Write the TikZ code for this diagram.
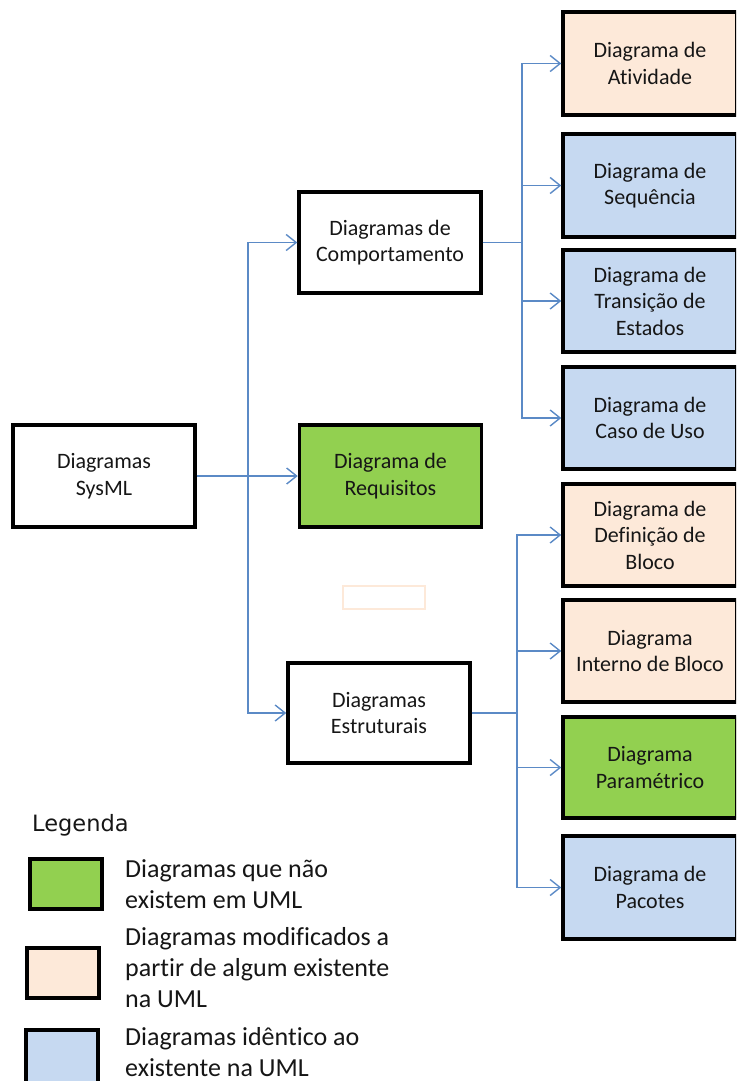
\documentclass[tikz,border=0pt]{standalone}
\usepackage{fontspec}
\setmainfont{Carlito}[Ligatures={NoCommon}]
\newfontfamily\legfont{DejaVu Sans}
\usetikzlibrary{arrows.meta}

\definecolor{linkblue}{RGB}{91,138,198}
\definecolor{peachfill}{RGB}{253,233,217}
\definecolor{bluefill}{RGB}{198,217,241}
\definecolor{greenfill}{RGB}{146,208,80}
\definecolor{inktext}{RGB}{22,22,22}

\tikzset{
  diag/.style={draw=black, line width=3.5pt, align=center, text=inktext,
    inner sep=0pt, font=\fontsize{22}{26.5}\selectfont},
  wbox/.style={diag, fill=white, minimum width=182pt},
  rbox/.style={diag, minimum width=174pt},
  conn/.style={draw=linkblue, line width=1.5pt,
    -{Straight Barb[length=10pt,width=16pt,line width=1.4pt]}},
  legbox/.style={draw=black, line width=4pt, minimum width=72pt, minimum height=50pt},
  legtext/.style={anchor=west, align=left, inner sep=0pt, text=inktext,
    font=\fontsize{26}{31}\selectfont}
}

\begin{document}
\begin{tikzpicture}[x=1pt, y=-1pt]
\useasboundingbox (0,0) rectangle (736,1081);
\begin{scope}
\clip (0,0) rectangle (736,1081);

% main hierarchy
\node[wbox, minimum height=102pt] (sysml) at (104,476) {Diagramas\\SysML};
\node[wbox, minimum height=101pt] (comp) at (390,242.5) {Diagramas de\\Comportamento};
\node[wbox, fill=greenfill, minimum height=102pt] (req) at (390.5,476) {Diagrama de\\Requisitos};
\node[wbox, minimum height=100pt] (estr) at (379,713) {Diagramas\\Estruturais};

% empty text frame
\node[draw=peachfill, line width=1.5pt, minimum width=82pt, minimum height=23pt, inner sep=0pt] (blank) at (384,597.5) {};

% behaviour diagrams
\node[rbox, fill=peachfill, minimum height=103pt] (ativ) at (650,63.5) {Diagrama de\\Atividade};
\node[rbox, fill=bluefill, minimum height=103pt] (seq) at (650,185.5) {Diagrama de\\Sequência};
\node[rbox, fill=bluefill, minimum height=102pt] (trans) at (650,301) {Diagrama de\\Transição de\\Estados};
\node[rbox, fill=bluefill, minimum height=102pt] (caso) at (650,418) {Diagrama de\\Caso de Uso};

% structure diagrams
\node[rbox, fill=peachfill, minimum height=102pt] (defb) at (650,535) {Diagrama de\\Definição de\\Bloco};
\node[rbox, fill=peachfill, minimum height=102pt] (intb) at (650,651) {Diagrama\\Interno de Bloco};
\node[rbox, fill=greenfill, minimum height=101pt] (param) at (650,767.5) {Diagrama\\Paramétrico};
\node[rbox, fill=bluefill, minimum height=103pt] (pac) at (650,887.5) {Diagrama de\\Pacotes};

% junction points of the connector trunks
\coordinate (sj) at (248,476);
\coordinate (cj) at (522,242.5);
\coordinate (ej) at (517,713);

% connectors
\draw[conn] (sysml.east) -- (req.west);
\draw[conn] (sysml.east) -- (sj) |- (comp.west);
\draw[conn] (sysml.east) -- (sj) |- (estr.west);

\draw[conn] (comp.east) -- (cj) |- (ativ.west);
\draw[conn] (comp.east) -- (cj) |- (seq.west);
\draw[conn] (comp.east) -- (cj) |- (trans.west);
\draw[conn] (comp.east) -- (cj) |- (caso.west);

\draw[conn] (estr.east) -- (ej) |- (defb.west);
\draw[conn] (estr.east) -- (ej) |- (intb.west);
\draw[conn] (estr.east) -- (ej) |- (param.west);
\draw[conn] (estr.east) -- (ej) |- (pac.west);

% legend
\node[anchor=west, inner sep=0pt, font=\legfont\fontsize{22.5}{27}\selectfont, text=inktext] (legtitle) at (32,825) {Legenda};
\node[legbox, fill=greenfill] (lgreen) at (65.5,884) {};
\node[legbox, fill=peachfill] (lpeach) at (63,973) {};
\node[legbox, fill=bluefill, minimum height=60pt] (lblue) at (61.5,1060) {};
\node[legtext] (tgreen) at (125,884) {Diagramas que não\\existem em UML};
\node[legtext] (tpeach) at (125,968) {Diagramas modificados a\\partir de algum existente\\na UML};
\node[legtext] (tblue) at (125,1052) {Diagramas idêntico ao\\existente na UML};
\end{scope}
\end{tikzpicture}
\end{document}
